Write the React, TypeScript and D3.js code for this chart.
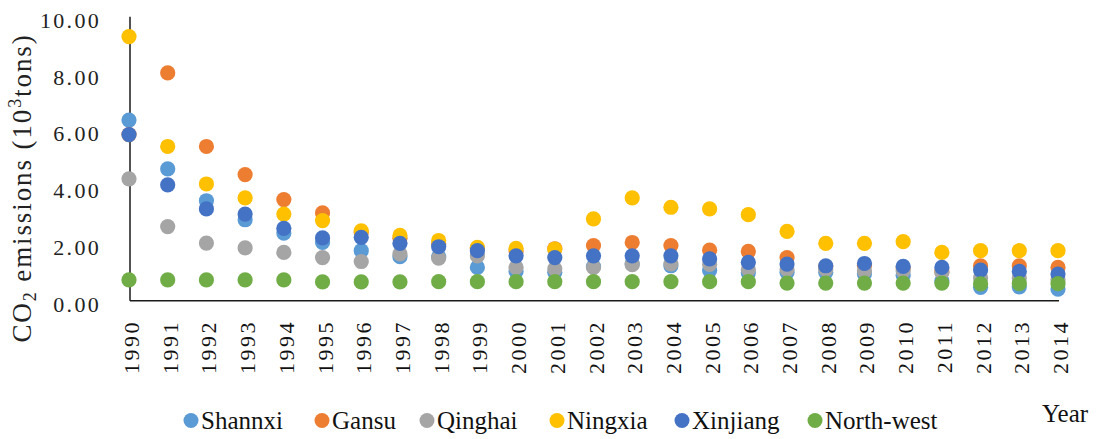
import * as d3 from "d3";

const years = d3.range(1990, 2015);
const yTicks = [0, 2, 4, 6, 8, 10];

const seriesNames = ["Shannxi", "Gansu", "Qinghai", "Ningxia", "Xinjiang", "North-west"];
const seriesColors = ["#5B9BD5", "#ED7D31", "#A5A5A5", "#FFC000", "#4472C4", "#70AD47"];

const shannxi = [6.36, 4.64, 3.52, 2.85, 2.38, 2.05, 1.76, 1.55, 1.55, 1.17, 1.03, 1.0, 1.2, 1.3, 1.23, 1.06, 0.98, 1.0, 1.0, 0.95, 0.9, 0.7, 0.47, 0.49, 0.41];
const gansu = [5.85, 8.02, 5.43, 4.44, 3.56, 3.09, 2.4, 2.2, 2.0, 1.85, 1.75, 1.83, 1.94, 2.05, 1.94, 1.78, 1.74, 1.52, 1.2, 1.25, 1.15, 1.02, 1.23, 1.23, 1.17];
const qinghai = [4.29, 2.61, 2.03, 1.86, 1.7, 1.52, 1.38, 1.65, 1.5, 1.58, 1.17, 1.12, 1.17, 1.27, 1.3, 1.28, 1.1, 1.1, 1.1, 1.05, 1.05, 1.0, 0.8, 0.8, 0.75];
const ningxia = [9.3, 5.43, 4.11, 3.62, 3.05, 2.82, 2.46, 2.3, 2.12, 1.88, 1.84, 1.82, 2.88, 3.62, 3.29, 3.23, 3.03, 2.44, 2.02, 2.02, 2.08, 1.7, 1.76, 1.76, 1.76];
const xinjiang = [5.85, 4.08, 3.23, 3.05, 2.55, 2.21, 2.23, 2.02, 1.9, 1.76, 1.58, 1.52, 1.58, 1.58, 1.58, 1.47, 1.35, 1.29, 1.23, 1.31, 1.21, 1.17, 1.08, 1.03, 0.94];
const northWest = [0.73, 0.73, 0.73, 0.73, 0.73, 0.66, 0.66, 0.66, 0.67, 0.67, 0.67, 0.67, 0.67, 0.67, 0.67, 0.67, 0.67, 0.62, 0.62, 0.62, 0.62, 0.62, 0.59, 0.6, 0.6];

const seriesValues = [shannxi, gansu, qinghai, ningxia, xinjiang, northWest];

const width = 1101;
const height = 439;
const legendX = [191, 322, 427, 557, 682, 815];
const font = '"Liberation Serif", "Times New Roman", "DejaVu Serif", serif';

export default function App() {
  const x = d3.scaleLinear().domain([1990, 2014]).range([129, 1058]);
  const y = d3.scaleLinear().domain([0, 10]).range([300.7, 16.7]);

  return (
    <svg
      width={width}
      height={height}
      style={{ position: "absolute", left: 0, top: 0, background: "#fff", fontFamily: font }}
    >
      {/* axes */}
      <line x1={130} x2={130} y1={y(10)} y2={y(0)} stroke="#1a1a1a" strokeWidth={1.5} />
      <line x1={130} x2={1059} y1={y(0)} y2={y(0)} stroke="#1a1a1a" strokeWidth={1.5} />

      {yTicks.map(t => (
        <text
          key={t}
          x={101}
          y={y(t) + 3.5}
          textAnchor="end"
          dominantBaseline="central"
          fontSize={22}
          letterSpacing={2.3}
          fill="#222"
        >
          {t.toFixed(2)}
        </text>
      ))}

      {years.map(yr => (
        <text
          key={yr}
          transform={`translate(${x(yr) + 10},320) rotate(-90)`}
          textAnchor="end"
          fontSize={22}
          letterSpacing={2.5}
          fill="#111"
        >
          {yr}
        </text>
      ))}

      <text
        transform={`translate(31,188) rotate(-90)`}
        textAnchor="middle"
        fontSize={27}
        letterSpacing={1.9}
        fill="#222"
      >
        CO<tspan fontSize={18} dy={5}>2</tspan>
        <tspan dy={-5}>{"  emissions  (10"}</tspan>
        <tspan fontSize={18} dy={-10}>3</tspan>
        <tspan dy={10}>tons)</tspan>
      </text>

      {/* points */}
      {seriesValues.map((vals, si) => (
        <g key={seriesNames[si]} fill={seriesColors[si]}>
          {vals.map((v, i) => (
            <circle key={i} cx={x(years[i])} cy={y(v)} r={7.6} />
          ))}
        </g>
      ))}

      {/* legend */}
      {seriesNames.map((name, i) => (
        <g key={name}>
          <circle cx={legendX[i]} cy={420.5} r={7.5} fill={seriesColors[i]} />
          <text x={legendX[i] + 10} y={429} fontSize={25} fill="#111">
            {name}
          </text>
        </g>
      ))}

      <text x={1042} y={422} fontSize={25} fill="#111">
        Year
      </text>
    </svg>
  );
}
